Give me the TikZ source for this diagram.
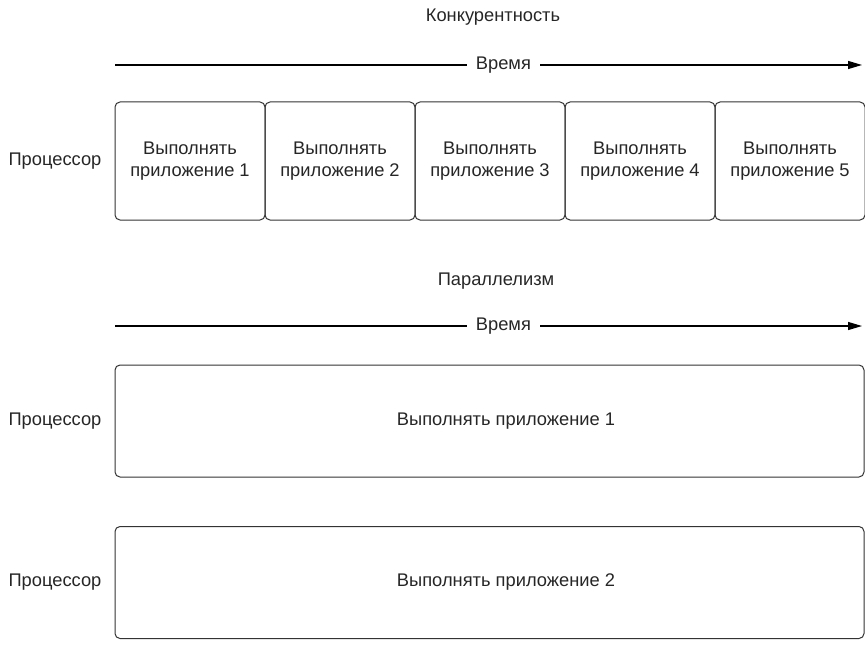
\documentclass[tikz,border=0pt]{standalone}
\usepackage{fontspec}
\setmainfont{Liberation Sans}
\usetikzlibrary{arrows.meta}
\begin{document}
\begin{tikzpicture}[x=1pt,y=-1pt,
  every node/.style={font=\fontsize{18.3}{22}\selectfont, text=black!85},
  taskbox/.style={draw=black!80, line width=1pt, rounded corners=5pt, inner sep=0pt},
  tasktext/.style={align=center, inner sep=0pt},
  timeline/.style={line width=1.2pt, -{Triangle[length=14pt,width=8pt]}},
  lbl/.style={fill=white, inner xsep=9pt, inner ysep=2pt}
]
\useasboundingbox (0,0) rectangle (865,666);
% Concurrency
\node (t1) at (493,17) {Конкурентность};
\coordinate (a1s) at (115,65);
\coordinate (a1e) at (862,65);
\draw[timeline] (a1s) -- node[lbl, pos=0.52] (w1) {Время} (a1e);
\node (p1) at (55,161) {Процессор};
\foreach \i in {1,...,5} {
  \node[taskbox, minimum width=150pt, minimum height=118pt] (c\i) at ({115+75+150*(\i-1)},161) {};
  \node[tasktext] (ct\i) at (c\i.center) {Выполнять\\приложение \i};
}
% Parallelism
\node (t2) at (496,281) {Параллелизм};
\coordinate (a2s) at (115,326);
\coordinate (a2e) at (862,326);
\draw[timeline] (a2s) -- node[lbl, pos=0.52] (w2) {Время} (a2e);
\node (p2) at (55,421) {Процессор};
\node[taskbox, minimum width=749pt, minimum height=112pt] (b1) at (489.5,421) {};
\node[tasktext] (bt1) at (506,421) {Выполнять приложение 1};
\node (p3) at (55,582) {Процессор};
\node[taskbox, minimum width=749pt, minimum height=112pt] (b2) at (489.5,582.5) {};
\node[tasktext] (bt2) at (506,582.5) {Выполнять приложение 2};
\end{tikzpicture}
\end{document}
